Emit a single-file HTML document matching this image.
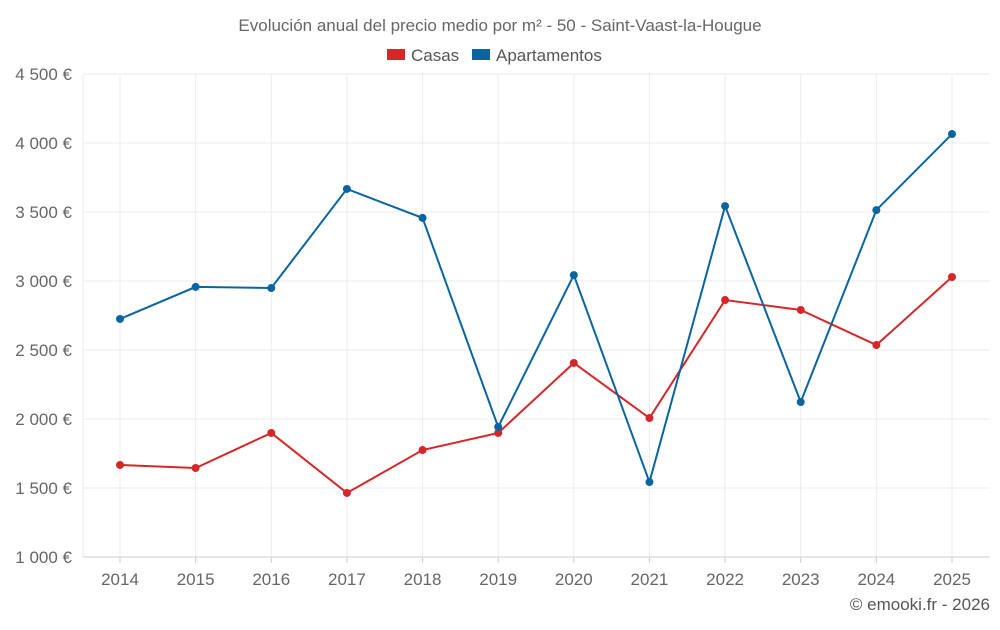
<!DOCTYPE html>
<html><head><meta charset="utf-8"><style>
body{margin:0;background:#fff;font-family:"Liberation Sans",sans-serif;}
svg text{font-family:"Liberation Sans",sans-serif;}
</style></head><body>
<svg id="chart" width="1000" height="625" viewBox="0 0 1000 625" xmlns="http://www.w3.org/2000/svg">
<text x="500" y="31" text-anchor="middle" font-size="17" fill="#666">Evolución anual del precio medio por m² - 50 - Saint-Vaast-la-Hougue</text>
<g>
<rect x="387" y="49" width="18" height="11" fill="#d62728"/>
<text x="411" y="61" font-size="17" fill="#555">Casas</text>
<rect x="472" y="49" width="18" height="11" fill="#0a64a0"/>
<text x="496" y="61" font-size="17" fill="#555">Apartamentos</text>
</g>
<g id="grid"></g><g id="axes"></g><g id="series"></g>
<text x="990" y="610" text-anchor="end" font-size="17" fill="#555">© emooki.fr - 2026</text>
</svg>
<script>
const years=["2014","2015","2016","2017","2018","2019","2020","2021","2022","2023","2024","2025"];
const casas=[1667,1645,1899,1464,1775,1899,2406,2007,2862,2790,2536,3029];
const apartamentos=[2725,2957,2949,3667,3457,1942,3043,1543,3543,2123,3514,4065];
const yTicks=[1000,1500,2000,2500,3000,3500,4000,4500];
const yTickLabels=["1 000 €","1 500 €","2 000 €","2 500 €","3 000 €","3 500 €","4 000 €","4 500 €"];
const L=83,R=990,T=74,B=557;
const x=i=>120+i*(952-120)/(years.length-1);
const y=v=>B-(v-1000)/(4500-1000)*(B-T);
const NS="http://www.w3.org/2000/svg";
function mk(tag,attrs,parent){const e=document.createElementNS(NS,tag);for(const k in attrs)e.setAttribute(k,attrs[k]);document.getElementById(parent).appendChild(e);return e;}
yTicks.forEach((v,i)=>{
 const g=mk('line',{x1:L,x2:R,y1:y(v),y2:y(v),stroke:i==0?'#ccc':'#ebebeb','stroke-width':1},'grid');
 
 
 const t=mk('text',{x:72,y:y(v)+6,'text-anchor':'end','font-size':17,fill:'#666'},'axes');
 t.textContent=yTickLabels[i];
 
 
});
const gl=mk('line',{x1:L,x2:L,y1:T,y2:B,stroke:'#ebebeb'},'grid');


years.forEach((yr,i)=>{
 const g=mk('line',{x1:x(i),x2:x(i),y1:T,y2:B,stroke:'#ebebeb'},'grid');
 
 
 const tk=mk('line',{x1:x(i),x2:x(i),y1:B,y2:B+6,stroke:'#ccc'},'axes');
 
 
 const t=mk('text',{x:x(i),y:585,'text-anchor':'middle','font-size':17,fill:'#666'},'axes');
 t.textContent=yr;
 
 
});
function series(vals,color,name){
 const p=mk('polyline',{points:vals.map((v,i)=>x(i)+','+y(v)).join(' '),fill:'none',stroke:color,'stroke-width':2},'series');
 
 
 vals.forEach((v,i)=>{
  const c=mk('circle',{cx:x(i),cy:y(v),r:4,fill:color},'series');
  
  
 });
}
series(casas,'#d62728','casas');
series(apartamentos,'#0a64a0','apartamentos');
</script>
</body></html>
